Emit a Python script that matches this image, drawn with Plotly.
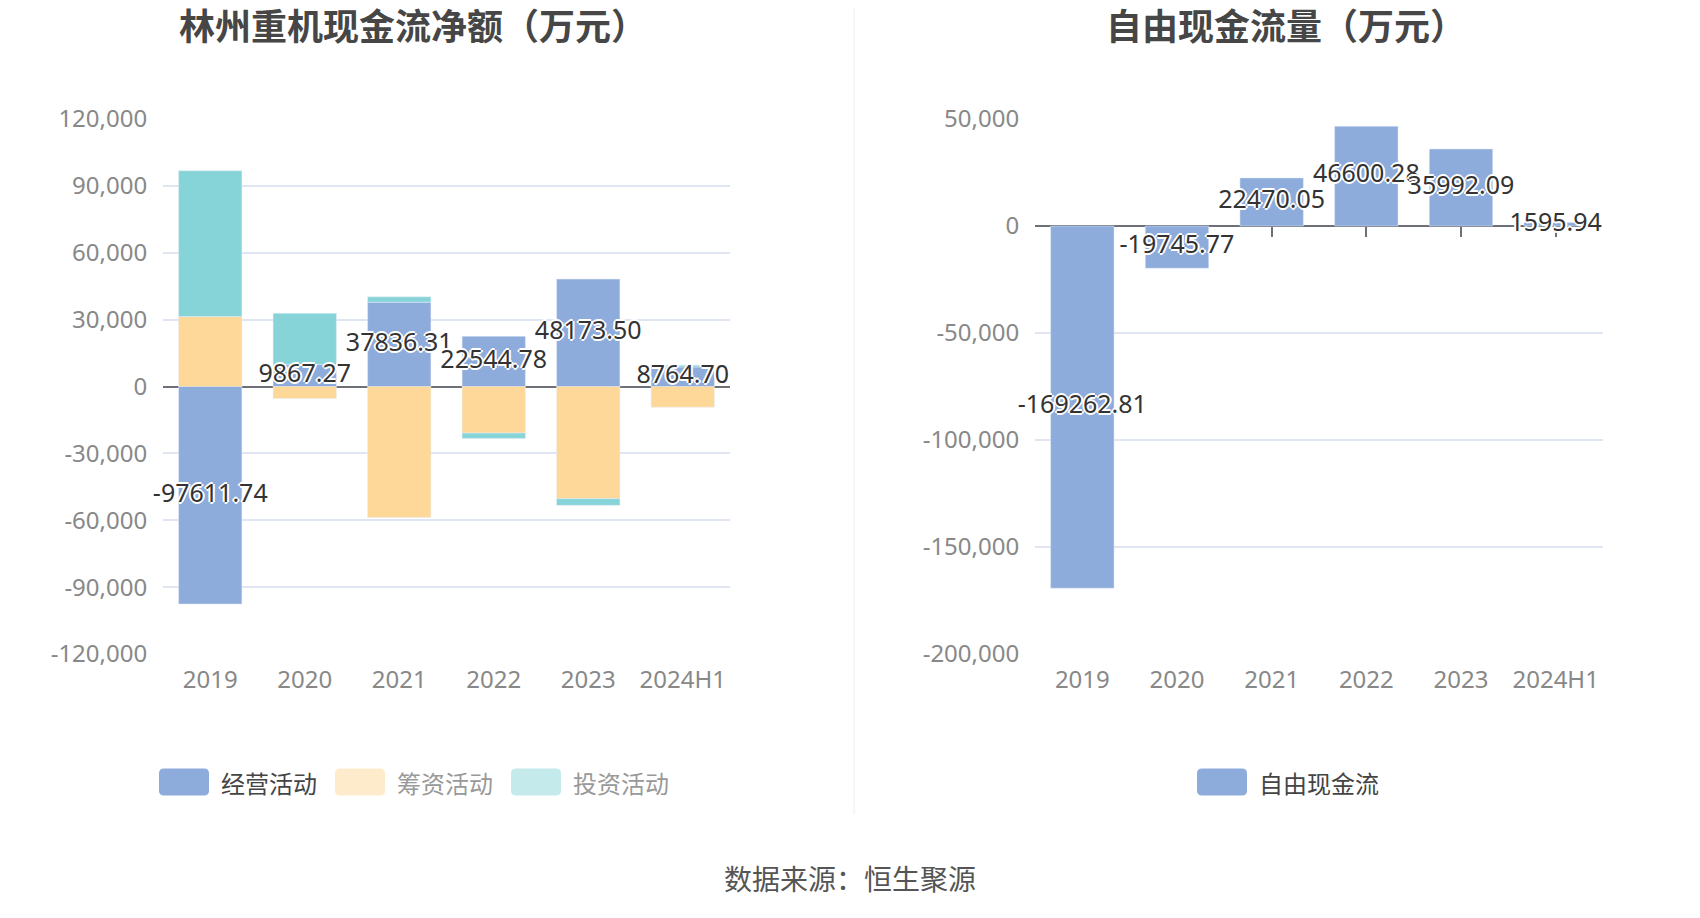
import plotly.graph_objects as go

years = ["2019", "2020", "2021", "2022", "2023", "2024H1"]

# 林州重机现金流净额（万元）
operating = [-97611.74, 9867.27, 37836.31, 22544.78, 48173.50, 8764.70]
financing = [31400, -5400, -58800, -20900, -50300, -9300]
investing = [65400, 22950, 2400, -2400, -3000, 800]

# 自由现金流量（万元）
free_cf = [-169262.81, -19745.77, 22470.05, 46600.28, 35992.09, 1595.94]

left_ticks = [-120000, -90000, -60000, -30000, 0, 30000, 60000, 90000, 120000]
right_ticks = [-200000, -150000, -100000, -50000, 0, 50000]

BLUE = "#8eacdb"
ORANGE = "#fed899"
CYAN = "#86d4d8"
FONT = "Noto Sans, Noto Sans CJK SC, sans-serif"
CJK = "Noto Sans CJK SC, sans-serif"
OUTLINE = "2px 0 0 #fff, -2px 0 0 #fff, 0 2px 0 #fff, 0 -2px 0 #fff, 1px 1px 1px #fff, -1px -1px 1px #fff"

W, H = 1700, 918
OFF = 8  # page body margin


def px(x):
    return (x - OFF) / W


def py(y):
    return 1 - (y - OFF) / H


y_dom = [py(654), py(119)]
left_dom = [px(163), px(730)]
right_dom = [px(1035), px(1603)]


def zero_pos(rng):
    return y_dom[0] + (y_dom[1] - y_dom[0]) * (0 - rng[0]) / (rng[1] - rng[0])


left_range = [left_ticks[0], left_ticks[-1]]
right_range = [right_ticks[0], right_ticks[-1]]

fig = go.Figure()

for name, vals, col in [("经营活动", operating, BLUE), ("筹资活动", financing, ORANGE), ("投资活动", investing, CYAN)]:
    fig.add_trace(go.Bar(x=years, y=vals, name=name, marker_color=col, width=0.67,
                         xaxis="x", yaxis="y", showlegend=False))

fig.add_trace(go.Scatter(x=years, y=[v / 2 for v in operating], mode="text",
                         text=[f"{v:.2f}" for v in operating], cliponaxis=False,
                         textfont=dict(family=FONT, size=25, color="#333", shadow=OUTLINE),
                         xaxis="x", yaxis="y", showlegend=False, hoverinfo="skip"))

fig.add_trace(go.Bar(x=years, y=free_cf, name="自由现金流", marker_color=BLUE, width=0.67,
                     xaxis="x2", yaxis="y2", showlegend=False))
fig.add_trace(go.Scatter(x=years, y=[v / 2 for v in free_cf], mode="text",
                         text=[f"{v:.2f}" for v in free_cf], cliponaxis=False,
                         textfont=dict(family=FONT, size=25, color="#333", shadow=OUTLINE),
                         xaxis="x2", yaxis="y2", showlegend=False, hoverinfo="skip"))

# empty traces so the tick-only axes at the zero line get drawn
fig.add_trace(go.Scatter(x=[], y=[], xaxis="x3", yaxis="y", showlegend=False))
fig.add_trace(go.Scatter(x=[], y=[], xaxis="x4", yaxis="y2", showlegend=False))

xcommon = dict(type="category", showline=False, showgrid=False, zeroline=False, automargin=False,
               ticks="outside", ticklen=4, tickcolor="rgba(0,0,0,0)",
               tickfont=dict(family=FONT, size=24, color="#888"))
ycommon = dict(showline=False, showgrid=True, gridcolor="#e0e6f1", gridwidth=1.5, automargin=False,
               zeroline=True, zerolinecolor="#6e7079", zerolinewidth=2,
               ticks="outside", ticklen=10, tickcolor="rgba(0,0,0,0)",
               tickfont=dict(family=FONT, size=24, color="#888"), domain=y_dom)
tickaxis = dict(type="linear", range=[-0.5, len(years) - 0.5], tickvals=list(range(len(years))),
                showticklabels=False, showgrid=False, zeroline=False, showline=False, automargin=False,
                ticks="outside", ticklen=10, tickwidth=2, tickcolor="#6e7079",
                layer="below traces", anchor="free")

fig.update_layout(
    width=W, height=H,
    margin=dict(l=0, r=0, t=0, b=0, pad=0),
    paper_bgcolor="white", plot_bgcolor="white",
    barmode="relative",
    showlegend=False,
    xaxis=dict(xcommon, domain=left_dom, anchor="y"),
    yaxis=dict(ycommon, range=left_range, tickvals=left_ticks,
               ticktext=[f"{v:,}" for v in left_ticks], anchor="x"),
    xaxis2=dict(xcommon, domain=right_dom, anchor="y2"),
    yaxis2=dict(ycommon, range=right_range, tickvals=right_ticks,
                ticktext=[f"{v:,}" for v in right_ticks], anchor="x2"),
    xaxis3=dict(tickaxis, domain=left_dom, overlaying="x", position=zero_pos(left_range)),
    xaxis4=dict(tickaxis, domain=right_dom, overlaying="x2", position=zero_pos(right_range)),
)

# titles and source
fig.add_annotation(text="<b>林州重机现金流净额（万元）</b>", x=px(413), y=py(24), xref="paper", yref="paper",
                   xanchor="center", yanchor="middle", showarrow=False,
                   font=dict(family=CJK, size=36, color="#464646"))
fig.add_annotation(text="<b>自由现金流量（万元）</b>", x=px(1286), y=py(24), xref="paper", yref="paper",
                   xanchor="center", yanchor="middle", showarrow=False,
                   font=dict(family=CJK, size=36, color="#464646"))
fig.add_annotation(text="数据来源：恒生聚源", x=px(850), y=py(878), xref="paper", yref="paper",
                   xanchor="center", yanchor="middle", showarrow=False,
                   font=dict(family=CJK, size=28, color="#555"))

# divider
fig.add_shape(type="line", xref="paper", yref="paper", x0=px(854), x1=px(854), y0=py(814), y1=py(0),
              line=dict(color="#eeeeee", width=1))

# legends (rounded swatches)
legend_items = [
    ("经营活动", BLUE, "#444", 184, 219),
    ("筹资活动", "#feebcc", "#999", 360, 395),
    ("投资活动", "#c4eaeb", "#999", 536, 571),
    ("自由现金流", BLUE, "#444", 1222, 1257),
]
rr = "M -20,-13.5 L 20,-13.5 Q 25,-13.5 25,-8.5 L 25,8.5 Q 25,13.5 20,13.5 L -20,13.5 Q -25,13.5 -25,8.5 L -25,-8.5 Q -25,-13.5 -20,-13.5 Z"
leg_y = py(782)
for label, sw, tc, cx, tx in legend_items:
    fig.add_shape(type="path", path=rr, xref="paper", yref="paper", xsizemode="pixel", ysizemode="pixel",
                  xanchor=px(cx), yanchor=leg_y, fillcolor=sw, line=dict(width=0))
    fig.add_annotation(text=label, x=px(tx), y=leg_y, xref="paper", yref="paper",
                       xanchor="left", yanchor="middle", showarrow=False,
                       font=dict(family=CJK, size=24, color=tc))

fig.write_html("out.html")
